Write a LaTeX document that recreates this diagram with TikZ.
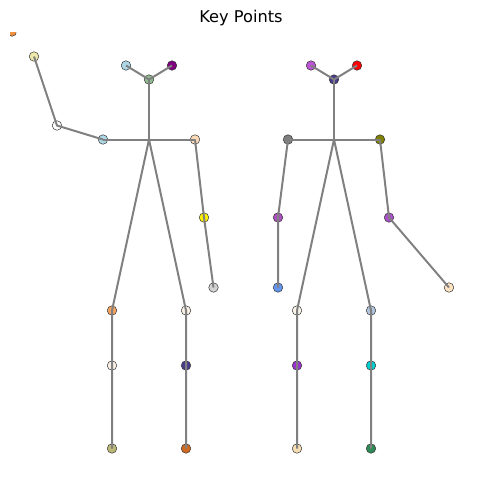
\documentclass[tikz,border=0pt]{standalone}
\usepackage{fontspec}
\setmainfont{DejaVu Sans}
\definecolor{cstray}{HTML}{F09040}
\definecolor{cltblue}{HTML}{ADD8E6}
\definecolor{cpurple}{HTML}{800080}
\definecolor{cdsgreen}{HTML}{8FBC8F}
\definecolor{cpgold}{HTML}{EEE8AA}
\definecolor{cpeach}{HTML}{FFDAB9}
\definecolor{cltgray}{HTML}{D3D3D3}
\definecolor{csandy}{HTML}{F4A460}
\definecolor{clinen}{HTML}{FAF0E6}
\definecolor{cdkhaki}{HTML}{BDB778}
\definecolor{cdsblue}{HTML}{483D8B}
\definecolor{cchoc}{HTML}{D2691E}
\definecolor{cmorchid}{HTML}{BA55D3}
\definecolor{corchidb}{HTML}{AA50BE}
\definecolor{corchidc}{HTML}{AA50C8}
\definecolor{ccorn}{HTML}{6495ED}
\definecolor{colive}{HTML}{808000}
\definecolor{cbisque}{HTML}{FFE4C4}
\definecolor{coldlace}{HTML}{FAF5EB}
\definecolor{cdorchid}{HTML}{9932CC}
\definecolor{cwheat}{HTML}{F5DEB3}
\definecolor{clsteel}{HTML}{B0C4DE}
\definecolor{cdturq}{HTML}{00CED1}
\definecolor{cseag}{HTML}{2E8B57}
\begin{document}
\begin{tikzpicture}[x=1pt,y=-1pt,
  kp/.style={circle,draw=black!80,line width=0.5pt,minimum size=9.5pt,inner sep=0pt,fill=#1},
  bone/.style={draw=gray,line width=2pt}]
\useasboundingbox (0,0) rectangle (482,504);
\node (title) at (241,18.5) {\fontsize{16.2}{18}\selectfont Key Points};
% clipped orange point at top-left
\begin{scope}
\clip (10,32) rectangle (16,40);
\node[kp=cstray] (stray) at (12,31.5) {};
\end{scope}
% left figure
\node[kp=cltblue] (aearl) at (126,65.5) {};
\node[kp=cpurple] (aearr) at (172,65.5) {};
\node[kp=cdsgreen] (aneck) at (149,79.5) {};
\coordinate (achest) at (149,139.5);
\node[kp=cltblue] (ashl) at (103,139.5) {};
\node[kp=white] (aelbl) at (57,125.5) {};
\node[kp=cpgold] (awrl) at (34,56.5) {};
\node[kp=cpeach] (ashr) at (195,139.5) {};
\node[kp=yellow] (aelbr) at (204,217.5) {};
\node[kp=cltgray] (awrr) at (213.5,287.5) {};
\node[kp=csandy] (ahipl) at (112,310.5) {};
\node[kp=clinen] (aknel) at (112,365.5) {};
\node[kp=cdkhaki] (aankl) at (112,448.5) {};
\node[kp=clinen] (ahipr) at (186,310.5) {};
\node[kp=cdsblue] (akner) at (186,365.5) {};
\node[kp=cchoc] (aankr) at (186,448.5) {};
% right figure
\node[kp=cmorchid] (bearl) at (311,65.5) {};
\node[kp=red] (bearr) at (357,65.5) {};
\node[kp=cdsblue] (bneck) at (334,79.5) {};
\coordinate (bchest) at (334,139.5);
\node[kp=gray] (bshl) at (288,139.5) {};
\node[kp=corchidb] (belbl) at (278,217.5) {};
\node[kp=ccorn] (bwrl) at (278,287.5) {};
\node[kp=colive] (bshr) at (380,139.5) {};
\node[kp=corchidc] (belbr) at (389,217.5) {};
\node[kp=cbisque] (bwrr) at (449,287.5) {};
\node[kp=coldlace] (bhipl) at (297,310.5) {};
\node[kp=cdorchid] (bknel) at (297,365.5) {};
\node[kp=cwheat] (bankl) at (297,448.5) {};
\node[kp=clsteel] (bhipr) at (371,310.5) {};
\node[kp=cdturq] (bkner) at (371,365.5) {};
\node[kp=cseag] (bankr) at (371,448.5) {};
% bones
\foreach \p in {a,b}{
  \draw[bone] (\p earl.center) -- (\p neck.center) -- (\p earr.center);
  \draw[bone] (\p neck.center) -- (\p chest);
  \draw[bone] (\p shl.center) -- (\p shr.center);
  \draw[bone] (\p shl.center) -- (\p elbl.center) -- (\p wrl.center);
  \draw[bone] (\p shr.center) -- (\p elbr.center) -- (\p wrr.center);
  \draw[bone] (\p chest) -- (\p hipl.center) -- (\p knel.center) -- (\p ankl.center);
  \draw[bone] (\p chest) -- (\p hipr.center) -- (\p kner.center) -- (\p ankr.center);
}
\end{tikzpicture}
\end{document}
